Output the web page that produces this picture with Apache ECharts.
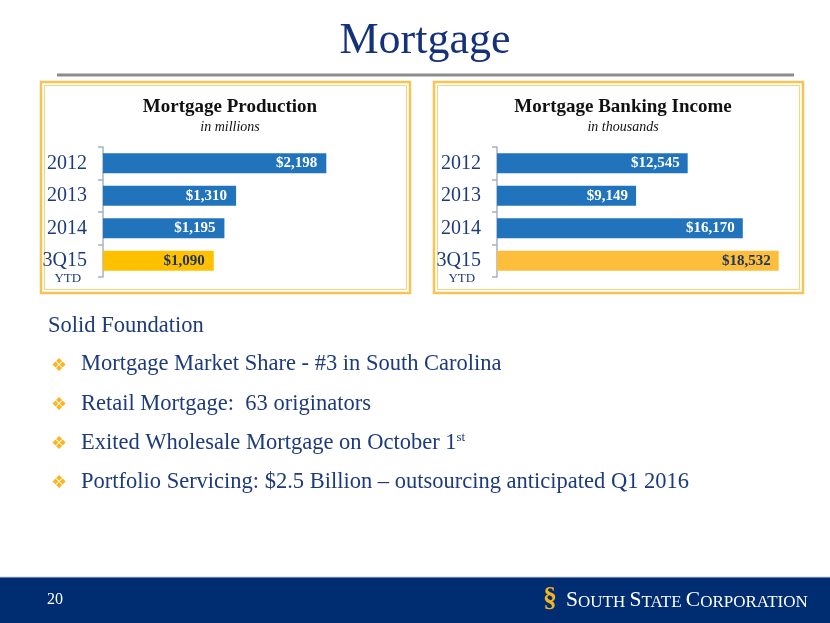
<!DOCTYPE html>
<html>
<head>
<meta charset="utf-8">
<script src="https://cdn.jsdelivr.net/npm/echarts@6/dist/echarts.min.js"></script>
<style>
html,body{margin:0;padding:0;background:#fff;}
#c{width:830px;height:623px;}
</style>
</head>
<body>
<div id="c"></div>
<script>
const categories = ['2012', '2013', '2014', '3Q15'];
const productionValues = [2198, 1310, 1195, 1090];
const incomeValues = [12545, 9149, 16170, 18532];
const bulletLines = [
  'Mortgage Market Share - #3 in South Carolina',
  'Retail Mortgage:  63 originators',
  'Exited Wholesale Mortgage on October 1{sup|st}',
  'Portfolio Servicing: $2.5 Billion \u2013 outsourcing anticipated Q1 2016'
];

const NAVY = '#1C3A7C';
const BLUE = '#2174BC';
const SERIF = '"Liberation Serif", "DejaVu Serif", serif';

function fmt(v) { return '$' + v.toLocaleString('en-US'); }

function barData(vals, goldColor) {
  return vals.map((v, i) => {
    const last = i === vals.length - 1;
    return {
      value: v,
      itemStyle: { color: last ? goldColor : BLUE },
      label: { color: last ? '#1E3564' : '#FFFFFF' }
    };
  });
}

function yAxisFor(gridIndex) {
  return {
    type: 'category', gridIndex: gridIndex, data: categories, inverse: true,
    axisLine: { show: true, lineStyle: { color: '#A7B1C6', width: 1.5 } },
    axisTick: { show: true, length: 5, lineStyle: { color: '#A7B1C6', width: 1.5 } },
    axisLabel: {
      interval: 0, hideOverlap: false,
      margin: 16, color: NAVY, fontFamily: SERIF, fontSize: 20,
      formatter: function (v) {
        if (v === '3Q15') return '{sp|}\n{a|3Q15}\n{b|YTD}';
        return '{a|' + v + '}';
      },
      rich: {
        sp: { lineHeight: 14, fontSize: 13 },
        a: { fontFamily: SERIF, fontSize: 20, color: NAVY, lineHeight: 22, align: 'center' },
        b: { fontFamily: SERIF, fontSize: 13, color: NAVY, lineHeight: 14, align: 'center', padding: [0, 0, 0, 6] }
      }
    }
  };
}

const chart = echarts.init(document.getElementById('c'), null, { renderer: 'canvas' });

const bulletGraphics = [];
bulletLines.forEach((t, i) => {
  const y = 367 + i * 39.2;
  bulletGraphics.push({
    type: 'text', left: 51, top: y - 10,
    style: { text: '\u2756', fill: '#F6B626', font: '18px "DejaVu Sans"' }
  });
  bulletGraphics.push({
    type: 'text', left: 81, top: y - 14,
    style: {
      text: t, fill: NAVY, font: '22.5px ' + SERIF,
      rich: { sup: { fontSize: 13, fontFamily: SERIF, fill: NAVY, verticalAlign: 'top', padding: [0, 0, 11, 0] } }
    }
  });
});

const option = {
  backgroundColor: '#ffffff',
  animation: false,
  grid: [
    { left: 103, top: 147, width: 254, height: 130 },
    { left: 497, top: 147, width: 304, height: 130 }
  ],
  xAxis: [
    { type: 'value', gridIndex: 0, min: 0, max: 2500, show: false },
    { type: 'value', gridIndex: 1, min: 0, max: 20000, show: false }
  ],
  yAxis: [yAxisFor(0), yAxisFor(1)],
  series: [
    {
      type: 'bar', xAxisIndex: 0, yAxisIndex: 0, barWidth: 20,
      data: barData(productionValues, '#FFC000'),
      label: { show: true, position: 'insideRight', distance: 9, fontFamily: SERIF, fontWeight: 'bold', fontSize: 15, formatter: p => fmt(p.value) }
    },
    {
      type: 'bar', xAxisIndex: 1, yAxisIndex: 1, barWidth: 20,
      data: barData(incomeValues, '#FDBF3B'),
      label: { show: true, position: 'insideRight', distance: 8, fontFamily: SERIF, fontWeight: 'bold', fontSize: 15, formatter: p => fmt(p.value) }
    }
  ],
  title: [
    { text: 'Mortgage', left: 420, textAlign: 'center', top: 14, textStyle: { fontFamily: SERIF, fontSize: 44, fontWeight: 'normal', color: '#14317A' } },
    { text: 'Mortgage Production', subtext: 'in millions', left: 225, textAlign: 'center', top: 93, itemGap: 3,
      textStyle: { fontFamily: SERIF, fontSize: 19, fontWeight: 'bold', color: '#111' },
      subtextStyle: { fontFamily: SERIF, fontSize: 14, fontStyle: 'italic', color: '#111' } },
    { text: 'Mortgage Banking Income', subtext: 'in thousands', left: 618, textAlign: 'center', top: 93, itemGap: 3,
      textStyle: { fontFamily: SERIF, fontSize: 19, fontWeight: 'bold', color: '#111' },
      subtextStyle: { fontFamily: SERIF, fontSize: 14, fontStyle: 'italic', color: '#111' } }
  ],
  graphic: [
    { type: 'line', shape: { x1: 57, y1: 75, x2: 794, y2: 75 }, style: { stroke: '#8C8C8C', lineWidth: 3 } },
    { type: 'rect', shape: { x: 41, y: 82, width: 369, height: 211 }, style: { fill: 'none', stroke: '#F7C352', lineWidth: 2.5 } },
    { type: 'rect', shape: { x: 44.5, y: 85.5, width: 362, height: 204 }, style: { fill: 'none', stroke: '#FBD27C', lineWidth: 1 } },
    { type: 'rect', shape: { x: 434, y: 82, width: 369, height: 211 }, style: { fill: 'none', stroke: '#F7C352', lineWidth: 2.5 } },
    { type: 'rect', shape: { x: 437.5, y: 85.5, width: 362, height: 204 }, style: { fill: 'none', stroke: '#FBD27C', lineWidth: 1 } },
    { type: 'text', left: 48, top: 315, style: { text: 'Solid Foundation', fill: NAVY, font: '22.5px ' + SERIF } },
    ...bulletGraphics,
    { type: 'rect', shape: { x: 0, y: 577, width: 830, height: 46 }, style: { fill: '#002C71' } },
    { type: 'line', shape: { x1: 0, y1: 577, x2: 830, y2: 577 }, style: { stroke: '#C9CDD6', lineWidth: 1 } },
    { type: 'text', left: 47, top: 592, style: { text: '20', fill: '#FFFFFF', font: '16px ' + SERIF } },
    { type: 'text', left: 543, top: 585, style: { text: '\u00A7', fill: '#F4B323', font: 'bold 28px ' + SERIF } },
    { type: 'text', left: 566, top: 589, style: {
        text: '{b|S}{s|OUTH }{b|S}{s|TATE }{b|C}{s|ORPORATION}',
        rich: {
          b: { fontFamily: SERIF, fontSize: 21.5, fill: '#FFFFFF', verticalAlign: 'bottom' },
          s: { fontFamily: SERIF, fontSize: 17, fill: '#FFFFFF', verticalAlign: 'bottom' }
        }
      } }
  ]
};
chart.setOption(option);
</script>
</body>
</html>
